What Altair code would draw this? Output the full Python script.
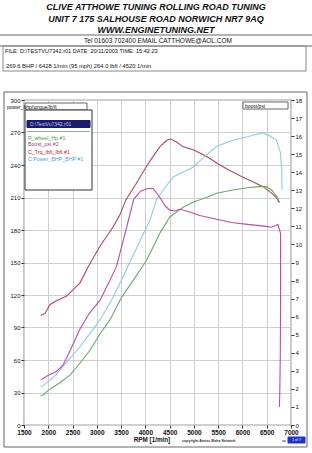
import altair as alt
import pandas as pd

# ---------------- data ----------------
rpm_torque = [1843, 1932, 2035, 2138, 2378, 2650, 2823, 3064, 3338, 3475, 3600, 3800, 4000, 4100, 4300, 4450, 4525,
              4650, 4771, 4984, 5259, 5500, 5738, 6000, 6150, 6424, 6600, 6700, 6760]
torque = [101, 103, 111, 114, 119, 131, 146, 165, 183, 194, 208, 222, 237, 244, 257, 263, 264,
          261, 257, 254, 248, 241, 235, 229, 226, 220, 214, 210, 205]

rpm_power = [1843, 2000, 2150, 2378, 2650, 2920, 3064, 3300, 3500, 3700, 3900, 4093, 4230, 4400, 4572, 4800,
             4984, 5200, 5465, 5808, 6100, 6250, 6428, 6550, 6700, 6780, 6810, 6815]
power = [35, 40, 46, 58, 72, 88, 97, 115, 133, 152, 171, 189, 208, 219, 229, 234,
         238, 247, 257, 263, 266, 268, 269.6, 267, 263, 252, 235, 217]

rpm_wheel = [1843, 1900, 2000, 2100, 2240, 2446, 2650, 2860, 3064, 3270, 3500, 3800, 4024, 4200, 4298, 4504,
             4778, 5000, 5258, 5465, 5800, 6100, 6356, 6494, 6600, 6700, 6760]
wheel = [27, 28, 32, 35, 39, 46, 57, 69, 84, 97, 117, 137, 152, 168, 177, 192,
         201, 206, 210, 214, 217, 219, 220, 220, 217, 211, 206]

rpm_boost = [1843, 2000, 2160, 2300, 2446, 2650, 2850, 3064, 3250, 3407, 3600, 3760, 3900, 4050, 4160, 4298,
             4420, 4504, 4600, 4710, 4916, 5121, 5465, 5808, 6150, 6494, 6600, 6733, 6785, 6785, 6780, 6770, 6762]
boost = [2.5, 2.75, 2.95, 3.3, 4.1, 5.3, 6.2, 6.9, 7.9, 8.8, 10.8, 12.5, 12.95, 13.1, 13.1, 12.6,
         12.1, 11.9, 11.85, 11.95, 11.8, 11.6, 11.4, 11.2, 11.1, 11.0, 10.95, 11.1, 10.6, 7.0, 4.0, 2.0, 1.0]

series_names = ["C_Trq_lbft_lbft #1", "C:Power_BHP_BHP #1", "P_wheel_Hp #1"]
series_colors = ["#b0485a", "#8ccbe8", "#6aa86a"]
boost_color = "#c04aa8"

x_ticks = list(range(1500, 7001, 500))
left_ticks = list(range(0, 301, 30))
right_ticks = list(range(0, 19, 1))

header_lines = ["CLIVE ATTHOWE TUNING ROLLING ROAD TUNING",
                "UNIT 7 175 SALHOUSE ROAD NORWICH NR7 9AQ",
                "WWW.ENGINETUNING.NET"]
tel_line = "Tel 01603 702400 EMAIL CATTHOWE@AOL.COM"
file_line = "FILE: D:\\TESTVU7342.r01   DATE: 20/11/2003   TIME: 15:42:23"
peak_line = "269.6 BHP / 6428 1/min (95 mph)     264.0 lbft / 4520 1/min"
legend_file = "D:\\TestVu7342.r01"
legend_items = ["P_wheel_Hp #1", "Boost_psi #2", "C_Trq_lbft_lbft #1", "C:Power_BHP_BHP #1"]
legend_colors = ["#3a9a3a", "#b03090", "#c02030", "#40a8d8"]

# ---------------- build ----------------
FONT = "Liberation Sans"
OX, OY = 24, 100          # plot origin in page pixels
W, H = 267, 325

rows = []
for name, rr, vv in zip(series_names, [rpm_torque, rpm_power, rpm_wheel], [torque, power, wheel]):
    for i, (r, v) in enumerate(zip(rr, vv)):
        rows.append({"series": name, "rpm": r, "val": v, "i": i})
left_df = pd.DataFrame(rows)
boost_df = pd.DataFrame({"rpm": rpm_boost, "boost": boost, "i": list(range(len(boost)))})

x_scale = alt.Scale(domain=[1500, 7000], nice=False, zero=False)
x_axis = alt.Axis(values=x_ticks, format="d", title=None, labelFont=FONT, labelFontSize=6.5,
                  labelFontWeight="bold", labelColor="#111", tickColor="#333", tickSize=3, labelPadding=1,
                  grid=True, gridColor="#cfcfcf", gridWidth=1, domain=False, labelFlush=False)

left = alt.Chart(left_df).mark_line(strokeWidth=1.1).encode(
    x=alt.X("rpm:Q", scale=x_scale, axis=x_axis),
    y=alt.Y("val:Q", scale=alt.Scale(domain=[0, 300], nice=False),
            axis=alt.Axis(values=left_ticks, format="d", title=None, labelFont=FONT, labelFontSize=6,
                          labelColor="#111", tickColor="#333", tickSize=3, labelPadding=1,
                          grid=True, gridColor="#cfcfcf", domain=False)),
    color=alt.Color("series:N", scale=alt.Scale(domain=series_names, range=series_colors), legend=None),
    order="i:Q",
)

right = alt.Chart(boost_df).mark_line(strokeWidth=1.1, color=boost_color).encode(
    x=alt.X("rpm:Q", scale=x_scale, axis=x_axis),
    y=alt.Y("boost:Q", scale=alt.Scale(domain=[0, 18], nice=False),
            axis=alt.Axis(values=right_ticks, format="d", orient="right", title=None, labelFont=FONT,
                          labelFontSize=6, labelColor="#111", tickColor="#333", tickSize=3, labelPadding=1,
                          grid=False, domain=False)),
    order="i:Q",
)

one = pd.DataFrame({"k": [0]})


def txt(s, x, y, size=6.0, weight="normal", style="normal", color="#111", align="left"):
    return alt.Chart(one).mark_text(text=s, fontSize=size, font=FONT, fontWeight=weight, fontStyle=style,
                                    color=color, align=align, baseline="middle").encode(
        x=alt.value(x - OX), y=alt.value(y - OY))


def box(x1, y1, x2, y2, fill="#ffffff", stroke="#555555", sw=1.0, fo=1.0):
    return alt.Chart(one).mark_rect(fill=fill, fillOpacity=fo, stroke=stroke, strokeWidth=sw).encode(
        x=alt.value(x1 - OX), x2=alt.value(x2 - OX), y=alt.value(y1 - OY), y2=alt.value(y2 - OY))


def hline(x1, x2, y, color="#666", sw=1.0):
    return alt.Chart(one).mark_rule(color=color, strokeWidth=sw).encode(
        x=alt.value(x1 - OX), x2=alt.value(x2 - OX), y=alt.value(y - OY))


annots = [
    # header
    txt(header_lines[0], 156, 7, size=9, weight="bold", style="italic", align="center"),
    txt(header_lines[1], 156, 18.5, size=9, weight="bold", style="italic", align="center"),
    txt(header_lines[2], 156, 29.5, size=9, weight="bold", style="italic", align="center"),
    hline(0, 312, 35),
    txt(tel_line, 158, 40.5, size=6.5, align="center"),
    hline(0, 312, 46),
    box(3, 46, 306, 71, fill="#ffffff", stroke="#888888", fo=0),
    txt(file_line, 5, 50.5, size=5.6),
    txt(peak_line, 6, 66, size=5.8),
    # chart frame
    box(4, 92, 307, 447, fill="#ffffff", stroke="#666666", fo=0),
    # left label box and legend
    box(25, 103, 87, 110, fill="#ffffff", stroke="#666666"),
    txt("power_bhp/torque/lb/ft", 7, 106.5, size=5),
    box(25, 110, 92, 190, fill="#ffffff", stroke="#333333"),
    box(27, 120.5, 90, 127.5, fill="#1c1c6e", stroke="#1c1c6e"),
    txt(legend_file, 30, 124, size=5, color="#b8c8ff"),
    hline(27, 90, 131.5, color="#8ab88a"),
    txt(legend_items[0], 28, 137.5, size=5.3, color=legend_colors[0]),
    txt(legend_items[1], 28, 144, size=5.3, color=legend_colors[1]),
    txt(legend_items[2], 28, 151.5, size=5.3, color=legend_colors[2]),
    txt(legend_items[3], 28, 158.5, size=5.3, color=legend_colors[3]),
    # right label box
    box(243, 102, 288, 109, fill="#ffffff", stroke="#666666"),
    txt("boost/psi", 245, 105.5, size=5),
    # bottom
    txt("RPM  [1/min]", 152, 440, size=6.3, weight="bold", align="center"),
    txt("copyright Amtec Maha Network", 182, 441, size=3.6, weight="bold", color="#333"),
    hline(282, 286, 441, color="#3344cc"),
    box(288, 437, 305, 443, fill="#2030c8", stroke="#2030c8"),
    txt("1 of 7", 296.5, 440, size=3.5, color="#ffffff", align="center"),
]

chart = alt.layer(left, right, *annots).resolve_scale(y="independent").properties(
    width=W, height=H,
    padding={"left": OX, "top": OY, "right": 312 - OX - W, "bottom": 453 - OY - H},
    autosize=alt.AutoSizeParams(type="none"),
    background="#ffffff",
).configure_view(stroke="#444444", strokeWidth=1.2)

chart.save("out.html", embed_options={"renderer": "svg", "actions": False})
